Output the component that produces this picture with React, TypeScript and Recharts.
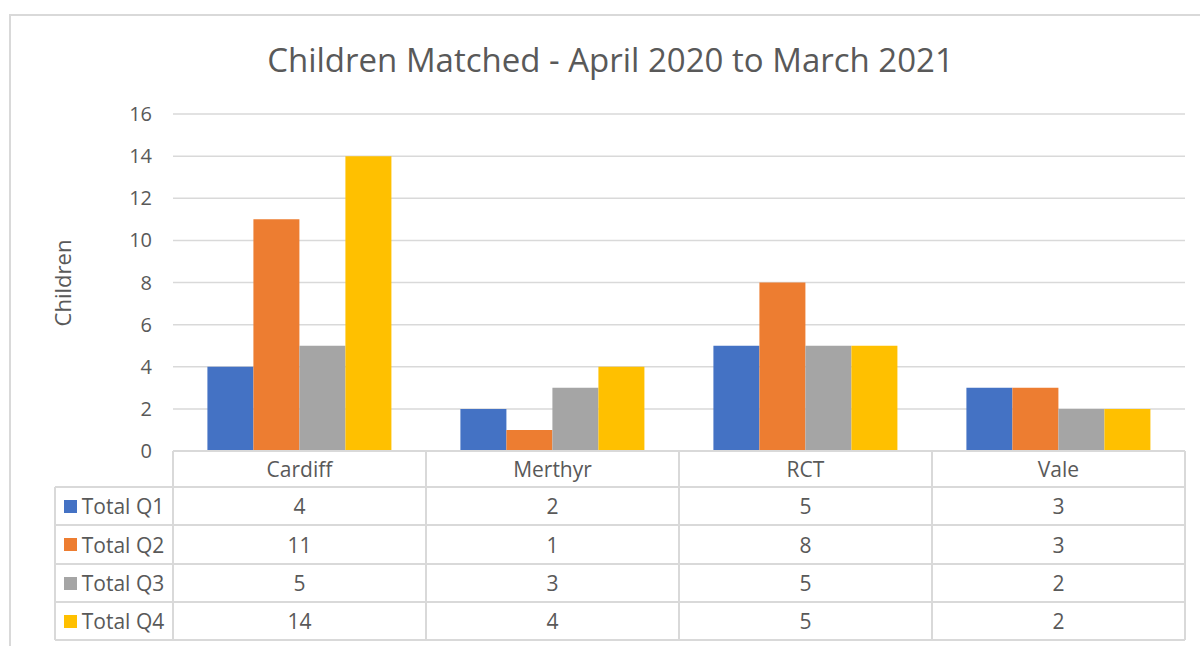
import { Bar, BarChart, CartesianGrid, XAxis, YAxis } from 'recharts';

const categories = ['Cardiff', 'Merthyr', 'RCT', 'Vale'];
const totalQ1 = [4, 2, 5, 3];
const totalQ2 = [11, 1, 8, 3];
const totalQ3 = [5, 3, 5, 2];
const totalQ4 = [14, 4, 5, 2];
const seriesNames = ['Total Q1', 'Total Q2', 'Total Q3', 'Total Q4'];
const seriesColors = ['#4472C4', '#ED7D31', '#A5A5A5', '#FFC000'];
const yTicks = [0, 2, 4, 6, 8, 10, 12, 14, 16];

const seriesValues = [totalQ1, totalQ2, totalQ3, totalQ4];
const data = categories.map((name, i) => ({
    name,
    q1: totalQ1[i],
    q2: totalQ2[i],
    q3: totalQ3[i],
    q4: totalQ4[i],
}));
const keys = ['q1', 'q2', 'q3', 'q4'];

const FONT = '"Open Sans", sans-serif';
const TEXT = '#595959';
const LINE = '#d9d9d9';

// plot area in page pixels
const plotLeft = 173;
const plotRight = 1185;
const plotBottom = 451;
const colW = (plotRight - plotLeft) / categories.length;
const tableLeft = 55;
const rowTops = [451, 487, 525, 564, 602, 640];

const hLine = (x: number, y: number, w: number, key: string) => (
    <div key={key} style={{ position: 'absolute', left: x, top: y - 1, width: w, height: 2, background: LINE }} />
);
const vLine = (x: number, y: number, h: number, key: string) => (
    <div key={key} style={{ position: 'absolute', left: x - 1, top: y, width: 2, height: h, background: LINE }} />
);

const DataTable = () => {
    const lines = [];
    lines.push(hLine(plotLeft, rowTops[0], plotRight - plotLeft, 'h0'));
    for (let r = 1; r < rowTops.length; r++) lines.push(hLine(tableLeft, rowTops[r], plotRight - tableLeft, 'h' + r));
    lines.push(vLine(tableLeft, rowTops[1], rowTops[5] - rowTops[1], 'vl'));
    for (let c = 0; c <= categories.length; c++) lines.push(vLine(plotLeft + c * colW, rowTops[0], rowTops[5] - rowTops[0], 'v' + c));

    const cell = (x: number, y: number, w: number, h: number, content: React.ReactNode, key: string) => (
        <div
            key={key}
            style={{
                position: 'absolute',
                left: x,
                top: y,
                width: w,
                height: h,
                display: 'flex',
                alignItems: 'center',
                justifyContent: 'center',
                fontFamily: FONT,
                fontSize: 21,
                color: TEXT,
            }}
        >
            {content}
        </div>
    );

    const cells = [];
    categories.forEach((c, i) => cells.push(cell(plotLeft + i * colW, rowTops[0], colW, rowTops[1] - rowTops[0], c, 'c' + i)));
    seriesNames.forEach((s, r) => {
        const y = rowTops[r + 1];
        const h = rowTops[r + 2] - y;
        cells.push(
            cell(
                tableLeft,
                y,
                plotLeft - tableLeft,
                h,
                <span style={{ display: 'flex', alignItems: 'center', gap: 5 }}>
                    <span style={{ display: 'inline-block', width: 13, height: 13, background: seriesColors[r] }} />
                    {s}
                </span>,
                'l' + r,
            ),
        );
        seriesValues[r].forEach((v, i) => cells.push(cell(plotLeft + i * colW, y, colW, h, v, 'd' + r + i)));
    });

    return (
        <>
            {lines}
            {cells}
        </>
    );
};

export default function App() {
    return (
        <div style={{ position: 'absolute', left: 0, top: 0, width: 1200, height: 646, overflow: 'hidden', background: '#fff' }}>
            <div style={{ position: 'absolute', left: 9, top: 14, width: 1200, height: 660, border: `2px solid ${LINE}`, boxSizing: 'border-box' }} />
            <div
                style={{
                    position: 'absolute',
                    left: 0,
                    top: 36,
                    width: 1221,
                    textAlign: 'center',
                    fontFamily: FONT,
                    fontSize: 33,
                    color: TEXT,
                    lineHeight: '48px',
                }}
            >
                Children Matched - April 2020 to March 2021
            </div>
            <div
                style={{
                    position: 'absolute',
                    left: 62,
                    top: 283,
                    transform: 'translate(-50%, -50%) rotate(-90deg)',
                    fontFamily: FONT,
                    fontSize: 22,
                    color: TEXT,
                    whiteSpace: 'nowrap',
                }}
            >
                Children
            </div>
            <div style={{ position: 'absolute', left: 0, top: 0 }}>
                <BarChart
                    width={1200}
                    height={646}
                    data={data}
                    margin={{ top: 114, right: 1200 - plotRight, bottom: 646 - plotBottom, left: plotLeft - 60 }}
                    barCategoryGap="13.6%"
                    barGap={0}
                >
                    <CartesianGrid vertical={false} stroke={LINE} strokeWidth={1.5} />
                    <XAxis dataKey="name" hide />
                    <YAxis
                        width={60}
                        domain={[0, 16]}
                        ticks={yTicks}
                        interval={0}
                        axisLine={false}
                        tickLine={false}
                        tickMargin={15}
                        tick={{ fill: TEXT, fontSize: 20, fontFamily: FONT }}
                    />
                    {keys.map((k, i) => (
                        <Bar key={k} dataKey={k} name={seriesNames[i]} fill={seriesColors[i]} isAnimationActive={false} />
                    ))}
                </BarChart>
            </div>
            <DataTable />
        </div>
    );
}
